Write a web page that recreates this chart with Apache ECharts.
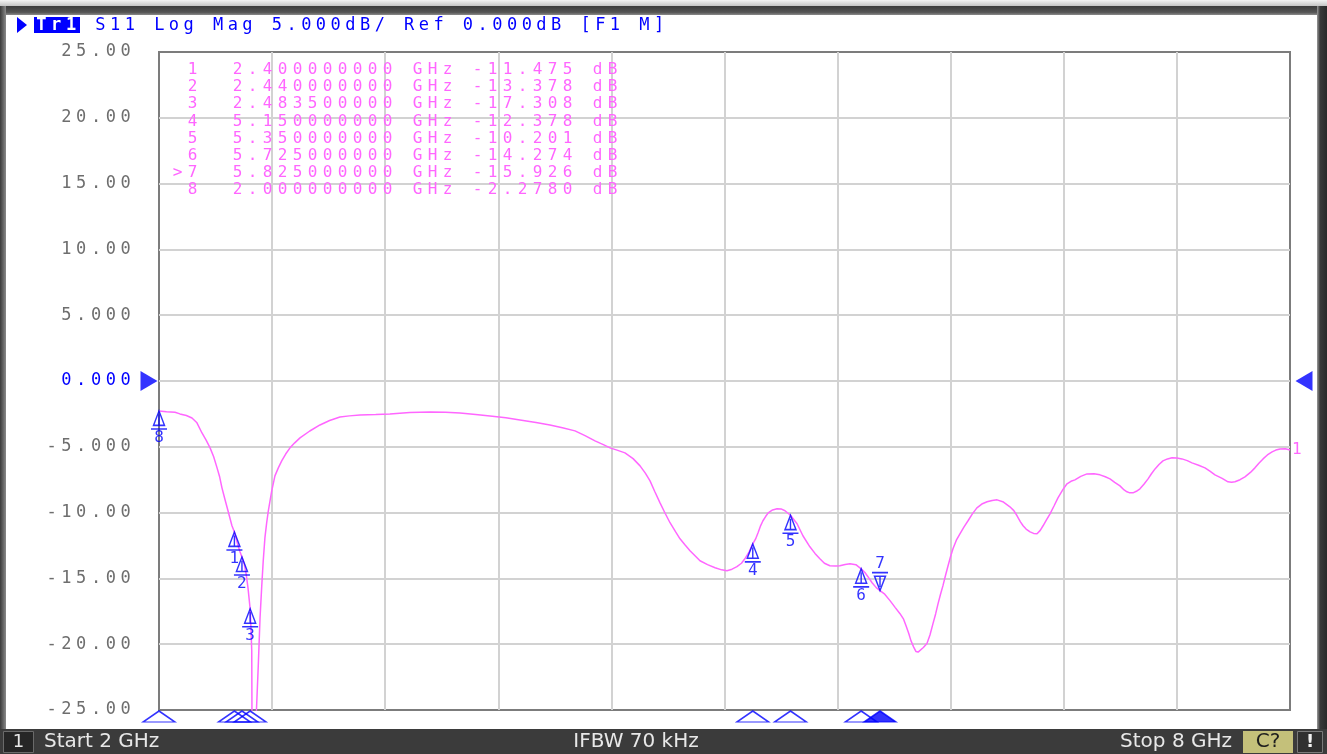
<!DOCTYPE html>
<html><head><meta charset="utf-8">
<script src="https://cdn.jsdelivr.net/npm/echarts@6/dist/echarts.min.js"></script>
<style>html,body{margin:0;padding:0;background:#fff;overflow:hidden}#c{width:1327px;height:754px}</style>
</head><body><div id="c"></div>
<script>
// ---------- data ----------
const traceFreq = [2.000,2.040,2.085,2.111,2.145,2.175,2.200,2.228,2.250,2.271,2.290,2.308,2.322,2.334,2.350,2.366,2.387,2.400,2.415,2.430,2.440,2.452,2.462,2.472,2.4835,2.488,2.492,2.494,2.502,2.510,2.517,2.527,2.536,2.545,2.553,2.562,2.571,2.580,2.598,2.615,2.633,2.651,2.672,2.695,2.720,2.748,2.800,2.854,2.905,2.960,3.010,3.066,3.150,3.225,3.330,3.438,3.520,3.597,3.680,3.756,3.840,3.915,4.000,4.074,4.140,4.207,4.260,4.313,4.360,4.393,4.430,4.472,4.515,4.552,4.580,4.605,4.630,4.658,4.685,4.711,4.740,4.764,4.790,4.817,4.845,4.870,4.910,4.950,4.985,5.013,5.040,5.066,5.090,5.108,5.130,5.150,5.165,5.178,5.190,5.204,5.218,5.232,5.255,5.279,5.300,5.321,5.350,5.385,5.416,5.453,5.480,5.506,5.530,5.559,5.590,5.612,5.640,5.666,5.697,5.725,5.745,5.761,5.783,5.805,5.825,5.850,5.878,5.905,5.931,5.950,5.963,5.978,5.989,6.003,6.016,6.027,6.037,6.055,6.074,6.090,6.106,6.120,6.133,6.146,6.159,6.172,6.186,6.199,6.212,6.230,6.249,6.270,6.292,6.315,6.339,6.365,6.393,6.420,6.446,6.480,6.514,6.535,6.552,6.570,6.584,6.600,6.621,6.640,6.658,6.675,6.690,6.708,6.727,6.748,6.769,6.795,6.817,6.838,6.859,6.890,6.923,6.960,6.992,7.020,7.045,7.070,7.098,7.120,7.135,7.150,7.167,7.185,7.204,7.225,7.247,7.265,7.284,7.305,7.326,7.350,7.374,7.400,7.427,7.455,7.480,7.515,7.549,7.575,7.602,7.640,7.671,7.690,7.708,7.735,7.761,7.790,7.814,7.835,7.857,7.880,7.905,7.925,7.947,7.975,8.000];
const traceDb = [-2.278,-2.33,-2.38,-2.50,-2.62,-2.81,-3.15,-3.95,-4.50,-5.08,-5.75,-6.60,-7.30,-8.12,-9.00,-9.86,-11.00,-11.475,-12.30,-13.00,-13.378,-13.90,-14.64,-15.70,-17.308,-18.80,-20.50,-28.0,-32.0,-28.0,-25.0,-21.5,-18.0,-15.6,-13.66,-11.9,-10.8,-9.86,-8.35,-7.21,-6.60,-6.07,-5.55,-5.08,-4.70,-4.32,-3.80,-3.34,-3.00,-2.73,-2.65,-2.58,-2.55,-2.50,-2.40,-2.35,-2.38,-2.43,-2.55,-2.66,-2.80,-2.96,-3.15,-3.34,-3.55,-3.79,-4.15,-4.55,-4.85,-5.08,-5.25,-5.46,-5.90,-6.45,-7.00,-7.59,-8.40,-9.26,-10.05,-10.77,-11.45,-11.99,-12.45,-12.90,-13.30,-13.66,-13.95,-14.19,-14.35,-14.42,-14.30,-14.11,-13.85,-13.51,-13.00,-12.378,-12.00,-11.53,-11.05,-10.62,-10.30,-10.02,-9.80,-9.71,-9.72,-9.86,-10.201,-10.85,-11.76,-12.60,-13.10,-13.51,-13.85,-14.04,-14.06,-14.04,-13.95,-13.88,-13.96,-14.274,-14.55,-14.87,-15.33,-15.70,-15.926,-16.20,-16.69,-17.20,-17.68,-18.10,-18.59,-19.20,-19.73,-20.20,-20.56,-20.60,-20.49,-20.25,-19.95,-19.30,-18.44,-17.70,-16.92,-16.20,-15.55,-14.80,-14.04,-13.35,-12.75,-12.10,-11.61,-11.10,-10.62,-10.10,-9.64,-9.35,-9.18,-9.08,-9.03,-9.20,-9.56,-9.85,-10.24,-10.70,-11.00,-11.25,-11.46,-11.58,-11.61,-11.35,-11.00,-10.55,-10.09,-9.50,-8.88,-8.25,-7.81,-7.62,-7.51,-7.25,-7.06,-7.05,-7.13,-7.28,-7.44,-7.70,-7.97,-8.28,-8.42,-8.50,-8.50,-8.38,-8.19,-7.85,-7.44,-7.05,-6.68,-6.35,-6.07,-5.92,-5.84,-5.85,-5.92,-6.05,-6.22,-6.40,-6.60,-6.85,-7.13,-7.40,-7.66,-7.70,-7.66,-7.50,-7.28,-6.95,-6.60,-6.25,-5.92,-5.62,-5.39,-5.25,-5.16,-5.15,-5.24];

const markerIds = ['1','2','3','4','5','6','7','8'];
const markerFreq = [2.4, 2.44, 2.4835, 5.15, 5.35, 5.725, 5.825, 2.0];
const markerDb = [-11.475, -13.378, -17.308, -12.378, -10.201, -14.274, -15.926, -2.278];
const markerFreqText = ['2.400000000','2.440000000','2.483500000','5.150000000','5.350000000','5.725000000','5.825000000','2.000000000'];
const markerDbText = ['-11.475','-13.378','-17.308','-12.378','-10.201','-14.274','-15.926','-2.2780'];
const activeMarker = '7';

const freqStart = 2, freqStop = 8;
const refLevel = 0;
const yTicks = [-25,-20,-15,-10,-5,0,5,10,15,20,25];
const yTickLabels = ['-25.00','-20.00','-15.00','-10.00','-5.000','0.000','5.000','10.00','15.00','20.00','25.00'];
const traceName = 'Tr1';
const headerText = ' S11 Log Mag 5.000dB/ Ref 0.000dB [F1 M]';
const traceNumber = '1';
const statusChannel = '1';
const statusStart = 'Start 2 GHz';
const statusIfbw = 'IFBW 70 kHz';
const statusStop = 'Stop 8 GHz';
const statusCal = 'C?';
const statusWarn = '!';

// ---------- helpers ----------
const MONO = 'DejaVu Sans Mono';
const SANS = 'DejaVu Sans';
const BLUE = '#0000ff';
const PINK = '#ff66ff';
function mono(str, cls) {
  return str.split('').map(ch => '{' + cls + '|' + (ch === ' ' ? '\u00a0' : ch) + '}').join('');
}
// rich cell for axis labels (echarts label style)
function cell(w, size, color, extra) {
  return Object.assign({width: w, align: 'center', fontFamily: MONO, fontSize: size, color: color}, extra || {});
}
// rich cell for graphic text (zrender style uses fill)
function gcell(w, size, color, extra) {
  return Object.assign({width: w, align: 'center', fontFamily: MONO, fontSize: size, fill: color}, extra || {});
}

const chart = echarts.init(document.getElementById('c'), null, {renderer: 'canvas'});

const upGlyph = 'path://M8,0 L2.5,12 L13.5,12 Z M8,3 L8,12 M0,15 L16,15';
const downGlyph = 'path://M0,0 L16,0 M2.5,3 L13.5,3 L8,15 Z M8,3 L8,12';

const markerData = markerIds.map((id, i) => {
  const act = id === activeMarker;
  return {
    value: [markerFreq[i], markerDb[i]],
    symbol: act ? downGlyph : upGlyph,
    symbolOffset: act ? [0, -9] : [0, 9],
    label: {show: true, position: act ? 'top' : 'bottom', distance: 0, formatter: id}
  };
});
const stimData = markerIds.map((id, i) => ({
  value: [markerFreq[i], yTicks[0]],
  itemStyle: id === activeMarker ? {color: BLUE} : {color: 'rgba(0,0,0,0)'}
}));

const rows = markerIds.map((id, i) => {
  const prefix = (id === activeMarker ? '>' : ' ') + id;
  return prefix + '  ' + markerFreqText[i] + ' GHz ' + markerDbText[i] + ' dB';
});

const graphics = [
  // outer frame
  {type: 'rect', shape: {x: 0, y: 0, width: 1327, height: 7}, style: {fill: new echarts.graphic.LinearGradient(0,0,0,1,[{offset:0,color:'#f4f4f4'},{offset:1,color:'#bdbdbd'}])}, silent: true},
  {type: 'rect', shape: {x: 0, y: 6, width: 1327, height: 9}, style: {fill: new echarts.graphic.LinearGradient(0,0,0,1,[{offset:0,color:'#3c3c3c'},{offset:0.7,color:'#555'},{offset:1,color:'#8a8a8a'}])}, silent: true},
  {type: 'rect', shape: {x: 0, y: 6, width: 6, height: 724}, style: {fill: new echarts.graphic.LinearGradient(0,0,1,0,[{offset:0,color:'#3a3a3a'},{offset:1,color:'#8a8a8a'}])}, silent: true},
  {type: 'rect', shape: {x: 1317, y: 6, width: 10, height: 724}, style: {fill: new echarts.graphic.LinearGradient(0,0,1,0,[{offset:0,color:'#9a9a9a'},{offset:0.3,color:'#3a3a3a'},{offset:1,color:'#2a2a2a'}])}, silent: true},
  // header
  {type: 'polygon', shape: {points: [[17,17],[27,25],[17,33]]}, style: {fill: BLUE}, silent: true},
  {type: 'rect', shape: {x: 34, y: 17, width: 46, height: 16}, style: {fill: BLUE}, silent: true},
  {type: 'text', x: 34, y: 26, silent: true, style: {
    text: mono(traceName, 'h') + mono(headerText, 'c'),
    verticalAlign: 'middle', align: 'left',
    rich: {h: gcell(14.8, 17, '#ffffff', {fontWeight: 'bold'}), c: gcell(14.7, 17, BLUE)}
  }},
  // marker table
  ...rows.map((r, i) => ({type: 'text', x: 170, y: 70 + i * 17.14, silent: true, z: 10, style: {
    text: mono(r, 'm'), verticalAlign: 'middle', align: 'left',
    rich: {m: gcell(15, 16, PINK)}
  }})),
  // status bar
  {type: 'rect', shape: {x: 0, y: 729, width: 1327, height: 25}, style: {fill: '#3b3b3b'}, silent: true},
  {type: 'rect', shape: {x: 3.5, y: 731.5, width: 30, height: 21}, style: {fill: '#262626', stroke: '#6a6a6a', lineWidth: 1}, silent: true},
  {type: 'text', x: 18.5, y: 742, silent: true, style: {text: statusChannel, fill: '#e8e8e8', font: '18px ' + SANS, align: 'center', verticalAlign: 'middle'}},
  {type: 'text', x: 44, y: 742, silent: true, style: {text: statusStart, fill: '#e8e8e8', font: '20px ' + SANS, align: 'left', verticalAlign: 'middle'}},
  {type: 'text', x: 636, y: 742, silent: true, style: {text: statusIfbw, fill: '#e8e8e8', font: '20px ' + SANS, align: 'center', verticalAlign: 'middle'}},
  {type: 'text', x: 1232, y: 742, silent: true, style: {text: statusStop, fill: '#e8e8e8', font: '20px ' + SANS, align: 'right', verticalAlign: 'middle'}},
  {type: 'rect', shape: {x: 1243, y: 731, width: 50, height: 22}, style: {fill: '#c4c07a'}, silent: true},
  {type: 'text', x: 1268, y: 742, silent: true, style: {text: statusCal, fill: '#1e1e1e', font: '20px ' + SANS, align: 'center', verticalAlign: 'middle'}},
  {type: 'rect', shape: {x: 1297.5, y: 731.5, width: 25, height: 21}, style: {fill: '#303030', stroke: '#7a7a7a', lineWidth: 1}, silent: true},
  {type: 'text', x: 1310, y: 742, silent: true, style: {text: statusWarn, fill: '#f0f0f0', font: 'bold 18px ' + SANS, align: 'center', verticalAlign: 'middle'}}
];

const option = {
  animation: false,
  backgroundColor: '#ffffff',
  grid: {left: 159, right: 37, top: 52, bottom: 44, show: true, borderColor: '#7c7c7c', borderWidth: 2, backgroundColor: '#ffffff'},
  xAxis: [
    {type: 'value', min: freqStart, max: freqStop, axisLine: {show: false}, axisTick: {show: false}, axisLabel: {show: false}, splitLine: {show: false}},
    {type: 'value', min: 0, max: 10, interval: 1, position: 'top', axisLine: {show: false}, axisTick: {show: false}, axisLabel: {show: false},
     splitLine: {show: true, showMinLine: false, showMaxLine: false, lineStyle: {color: '#d2d2d2', width: 2}}}
  ],
  yAxis: {
    type: 'value', min: yTicks[0], max: yTicks[yTicks.length - 1], interval: 5,
    axisLine: {show: false}, axisTick: {show: false},
    splitLine: {show: true, showMinLine: false, showMaxLine: false, lineStyle: {color: '#d2d2d2', width: 2}},
    axisLabel: {
      margin: 26,
      formatter: v => {
        const idx = yTicks.indexOf(v);
        const t = idx >= 0 ? yTickLabels[idx] : String(v);
        return mono(t, v === refLevel ? 'b' : 'g');
      },
      rich: {g: cell(14.8, 17, '#6e6e6e'), b: cell(14.8, 17, BLUE)}
    }
  },
  series: [
    {
      type: 'line', name: traceName, xAxisIndex: 0,
      data: traceFreq.map((f, i) => [f, traceDb[i]]),
      showSymbol: false, symbol: 'none', clip: true, silent: true,
      lineStyle: {color: PINK, width: 1.5}, itemStyle: {color: PINK},
      endLabel: {show: true, formatter: traceNumber, color: PINK, fontFamily: MONO, fontSize: 16, distance: 2},
      z: 3
    },
    {
      type: 'scatter', name: 'markers', xAxisIndex: 0, clip: false, silent: true,
      data: markerData, symbolSize: [16, 18],
      itemStyle: {color: 'rgba(0,0,0,0)', borderColor: BLUE, borderWidth: 1.5},
      label: {color: BLUE, fontFamily: MONO, fontSize: 16},
      z: 5
    },
    {
      type: 'scatter', name: 'stimulus', xAxisIndex: 0, clip: false, silent: true,
      data: stimData, symbol: 'path://M16,0 L32,11 L0,11 Z', symbolSize: [32, 11], symbolOffset: [0, 6.5],
      itemStyle: {borderColor: BLUE, borderWidth: 1.5},
      z: 5
    },
    {
      type: 'scatter', name: 'reference', xAxisIndex: 0, clip: false, silent: true,
      data: [
        {value: [freqStart, refLevel], symbol: 'path://M0,0 L17,10 L0,20 Z', symbolOffset: [-10, 0]},
        {value: [freqStop, refLevel], symbol: 'path://M17,0 L0,10 L17,20 Z', symbolOffset: [14, 0]}
      ],
      symbolSize: [17, 20], itemStyle: {color: BLUE}, z: 5
    }
  ],
  graphic: graphics
};
chart.setOption(option);
</script>
</body></html>
